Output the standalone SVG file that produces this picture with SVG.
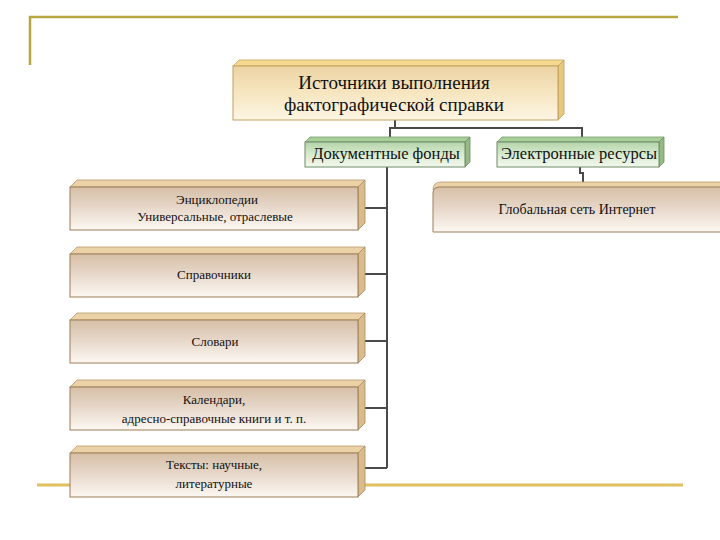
<svg xmlns="http://www.w3.org/2000/svg" width="720" height="540" viewBox="0 0 720 540">
<defs>
<linearGradient id="gTan" x1="0" y1="0" x2="0" y2="1">
<stop offset="0" stop-color="#d6bfa6"/>
<stop offset="0.45" stop-color="#e6d6c8"/>
<stop offset="1" stop-color="#fcf8f2"/>
</linearGradient>
<linearGradient id="gGold" x1="0" y1="0" x2="0" y2="1">
<stop offset="0" stop-color="#ecd4a4"/>
<stop offset="0.5" stop-color="#f6e6c0"/>
<stop offset="1" stop-color="#fdf6e4"/>
</linearGradient>
<linearGradient id="gGreen" x1="0" y1="0" x2="0" y2="1">
<stop offset="0" stop-color="#b4d4aa"/>
<stop offset="0.5" stop-color="#d8eacf"/>
<stop offset="1" stop-color="#f2f8ee"/>
</linearGradient>
<style>
.deco{stroke:#b8a640;stroke-width:2.5;fill:none}
.decob{stroke:#e0c060;stroke-width:3;fill:none}
.tanF{fill:url(#gTan);stroke:#9c7c58;stroke-width:1}
.tanT{fill:#ead2a6;stroke:#b89a70;stroke-width:0.8}
.tanS{fill:#d9bb8c;stroke:#a88c60;stroke-width:0.8}
.goldF{fill:url(#gGold);stroke:#c0a060;stroke-width:1}
.goldT{fill:#f5d990;stroke:#c8a860;stroke-width:0.8}
.goldS{fill:#e8c87c;stroke:#c0a060;stroke-width:0.8}
.grF{fill:url(#gGreen);stroke:#6f8a66;stroke-width:1}
.grT{fill:#a8cf98;stroke:#7a9a70;stroke-width:0.8}
.grS{fill:#94ba86;stroke:#6f8a66;stroke-width:0.8}
.conn{stroke:#4a4a4a;stroke-width:2;fill:none}
text{font-family:"Liberation Serif","DejaVu Serif",serif;fill:#111;text-anchor:middle}
.t1{font-size:19px}
.t2{font-size:16.5px}
.t3{font-size:13px}
.t4{font-size:14px}
</style>
</defs>
<rect width="720" height="540" fill="#ffffff"/>
<g id="decor">
<polyline class="deco" points="30,65 30,17 678,17"/>
<line class="decob" x1="37" y1="485" x2="683" y2="485"/>
</g>
<g id="connectors">
<polyline class="conn" points="395,120 395,128"/>
<polyline class="conn" points="390,137 390,128 582,128 582,137"/>
<polyline class="conn" points="580,167 580,173 583,173 583,182"/>
<polyline class="conn" points="387,167 387,468"/>
<line class="conn" x1="365" y1="208" x2="387" y2="208"/>
<line class="conn" x1="365" y1="274" x2="387" y2="274"/>
<line class="conn" x1="365" y1="341" x2="387" y2="341"/>
<line class="conn" x1="365" y1="408" x2="387" y2="408"/>
<line class="conn" x1="365" y1="468" x2="387" y2="468"/>
</g>
<g id="top">
<polygon class="goldT" points="233,66 239,60 564,60 558,66"/>
<polygon class="goldS" points="558,66 564,60 564,114 558,120"/>
<rect class="goldF" x="233" y="66" width="325" height="54"/>
<text class="t1" x="394" y="89">Источники выполнения</text>
<text class="t1" x="394" y="111">фактографической справки</text>
</g>
<g id="docs">
<polygon class="grT" points="305,142 310,137 470,137 465,142"/>
<polygon class="grS" points="465,142 470,137 470,162 465,167"/>
<rect class="grF" x="305" y="142" width="160" height="25"/>
<text class="t2" x="386" y="159">Документные фонды</text>
</g>
<g id="electronic">
<polygon class="grT" points="497,142 502,137 664,137 659,142"/>
<polygon class="grS" points="659,142 664,137 664,162 659,167"/>
<rect class="grF" x="497" y="142" width="162" height="25"/>
<text class="t2" x="579" y="159">Электронные ресурсы</text>
</g>
<g id="internet">
<path class="tanT" d="M433,190 Q433,182 441,182 L722,182 L722,188 L438,188 Z"/>
<path class="tanF" d="M433,232 L433,193 Q433,187 440,187 L722,187 L722,232 Z"/>
<text class="t4" x="577" y="214">Глобальная сеть Интернет</text>
</g>
<g id="enc">
<polygon class="tanT" points="70,187 77,180 365,180 358,187"/>
<polygon class="tanS" points="358,187 365,180 365,223 358,230"/>
<rect class="tanF" x="70" y="187" width="288" height="43"/>
<text class="t3" x="217" y="204">Энциклопедии</text>
<text class="t3" x="215" y="221">Универсальные, отраслевые</text>
</g>
<g id="sprav">
<polygon class="tanT" points="70,254 77,247 365,247 358,254"/>
<polygon class="tanS" points="358,254 365,247 365,290 358,297"/>
<rect class="tanF" x="70" y="254" width="288" height="43"/>
<text class="t3" x="214" y="279">Справочники</text>
</g>
<g id="slov">
<polygon class="tanT" points="70,320 77,313 365,313 358,320"/>
<polygon class="tanS" points="358,320 365,313 365,356 358,363"/>
<rect class="tanF" x="70" y="320" width="288" height="43"/>
<text class="t3" x="215" y="346">Словари</text>
</g>
<g id="kal">
<polygon class="tanT" points="70,387 77,380 365,380 358,387"/>
<polygon class="tanS" points="358,387 365,380 365,423 358,430"/>
<rect class="tanF" x="70" y="387" width="288" height="43"/>
<text class="t3" x="214" y="404">Календари,</text>
<text class="t3" x="214" y="423">адресно-справочные книги и т. п.</text>
</g>
<g id="texts">
<polygon class="tanT" points="70,453 77,446 365,446 358,453"/>
<polygon class="tanS" points="358,453 365,446 365,490 358,497"/>
<rect class="tanF" x="70" y="453" width="288" height="44"/>
<text class="t3" x="214" y="469">Тексты: научные,</text>
<text class="t3" x="214" y="488">литературные</text>
</g>
</svg>
